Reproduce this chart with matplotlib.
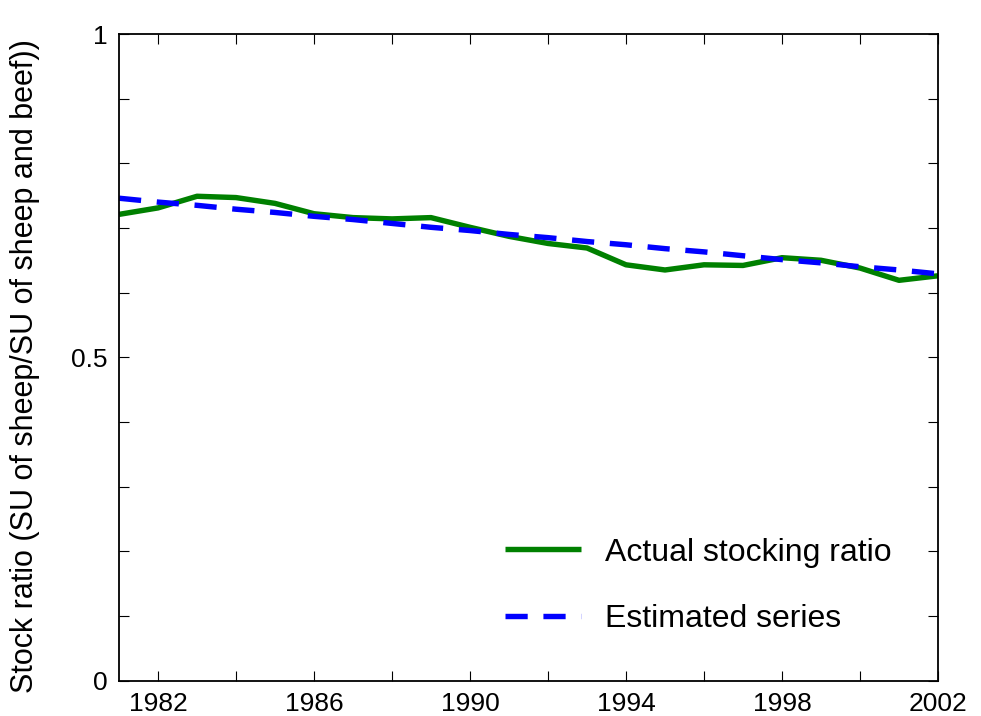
import matplotlib

matplotlib.use("Agg")
import matplotlib.pyplot as plt
from matplotlib.ticker import MultipleLocator

plt.rcParams["font.family"] = ["Liberation Sans", "DejaVu Sans"]

# Data
years = list(range(1981, 2003))
actual = [0.721, 0.731, 0.749, 0.747, 0.738, 0.722, 0.716, 0.714, 0.716, 0.701,
          0.687, 0.676, 0.669, 0.643, 0.635, 0.643, 0.642, 0.654, 0.650, 0.638,
          0.619, 0.626]
estimated = [0.746, 0.740, 0.735, 0.729, 0.724, 0.718, 0.713, 0.707, 0.701, 0.696,
             0.690, 0.685, 0.679, 0.674, 0.668, 0.663, 0.657, 0.651, 0.646, 0.640,
             0.635, 0.629]

fig = plt.figure(figsize=(9.81, 7.16), dpi=100)
ax = fig.add_axes([119 / 981, 1 - 680.5 / 716, (938 - 119) / 981, (680.5 - 34) / 716])

ax.plot(years, actual, color="#008000", lw=3.9, solid_capstyle="butt",
        label="Actual stocking ratio")
est, = ax.plot(years, estimated, color="#0000ff", lw=3.9, label="Estimated series")
est.set_dashes((4.1, 2.9))

ax.set_xlim(1981, 2002)
ax.set_ylim(0, 1)
ax.set_xticks([1982, 1986, 1990, 1994, 1998, 2002])
ax.xaxis.set_minor_locator(MultipleLocator(2))
ax.set_yticks([0, 0.5, 1])
ax.set_yticklabels(["0", "0.5", "1"])
ax.yaxis.set_minor_locator(MultipleLocator(0.1))
ax.tick_params(which="both", direction="in", top=True, right=True,
               length=7, width=0.8, labelsize=19, pad=8)
for sp in ax.spines.values():
    sp.set_linewidth(1.3)

ax.set_ylabel("Stock ratio (SU of sheep/SU of sheep and beef))", fontsize=22)
ax.yaxis.set_label_coords(-0.0965, 0.486)

ax.legend(loc="lower right", frameon=False, fontsize=23, handlelength=2.38,
          handletextpad=0.75, labelspacing=1.15, bbox_to_anchor=(0.979, 0.027))

fig.savefig("out.png", dpi=100)
